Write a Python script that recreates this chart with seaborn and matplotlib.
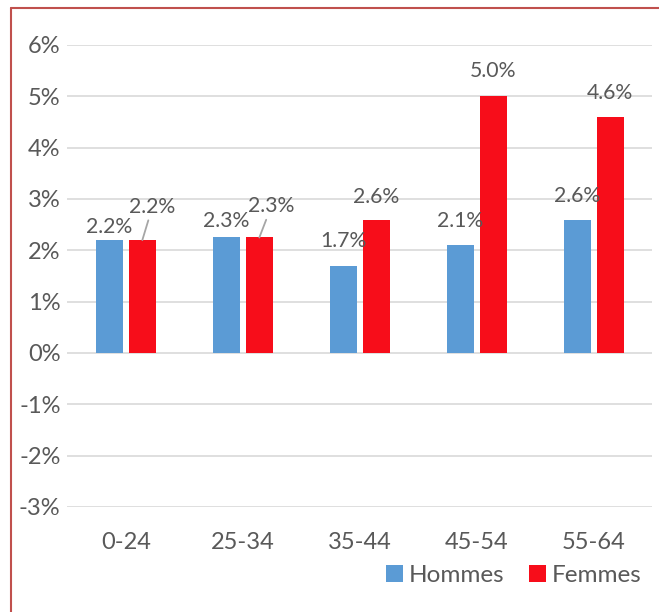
import matplotlib
matplotlib.use("Agg")
import matplotlib.pyplot as plt
import seaborn as sns
import pandas as pd
from matplotlib.lines import Line2D

categories = ["0-24", "25-34", "35-44", "45-54", "55-64"]
hommes = [2.2, 2.25, 1.7, 2.1, 2.6]
femmes = [2.2, 2.25, 2.6, 5.0, 4.6]
hommes_labels = ["2.2%", "2.3%", "1.7%", "2.1%", "2.6%"]
femmes_labels = ["2.2%", "2.3%", "2.6%", "5.0%", "4.6%"]
series = ["Hommes", "Femmes"]
yticks = [-3, -2, -1, 0, 1, 2, 3, 4, 5, 6]

df = pd.DataFrame({
    "age": categories * 2,
    "value": hommes + femmes,
    "sexe": [series[0]] * 5 + [series[1]] * 5,
})

sns.set_theme(style="white")
plt.rcParams["font.family"] = ["Lato", "DejaVu Sans"]
TXT = "#595959"

fig = plt.figure(figsize=(6.59, 6.12), dpi=100)
ax = fig.add_axes([0.1024, 0.1716, 0.8876, 0.7549])

sns.barplot(data=df, x="age", y="value", hue="sexe", order=categories,
            hue_order=series, palette=["#5B9BD5", "#F70D1A"],
            width=0.56, gap=0.18, ax=ax, saturation=1, errorbar=None,
            linewidth=0)

ax.set_ylim(-3, 6)
ax.set_xlim(-0.5, 4.5)
ax.set_yticks(yticks)
ax.set_yticklabels([f"{t}%" for t in yticks])
ax.yaxis.grid(True, color="#d9d9d9", linewidth=1.2)
ax.set_axisbelow(True)
for s in ax.spines.values():
    s.set_visible(False)
ax.set_xlabel("")
ax.set_ylabel("")
ax.tick_params(axis="y", labelsize=17, colors=TXT, length=0, pad=5)
ax.tick_params(axis="x", labelsize=17, colors=TXT, length=0, pad=18)

# data labels
h_off = [(0, 13), (0, 16), (0, 25), (0, 24), (0, 24)]
f_off = [(10, 33), (12, 31), (0, 23), (0, 25), (0, 24)]
f_lead = [True, True, False, False, False]
bars_h = ax.containers[0]
bars_f = ax.containers[1]
for i, b in enumerate(bars_h):
    cx = b.get_x() + b.get_width() / 2
    ax.annotate(hommes_labels[i], xy=(cx, hommes[i]), xytext=h_off[i],
                textcoords="offset pixels", ha="center", va="center",
                fontsize=15.3, color=TXT)
for i, b in enumerate(bars_f):
    cx = b.get_x() + b.get_width() / 2
    ap = dict(arrowstyle="-", color="#a6a6a6", lw=1.3, shrinkA=0, shrinkB=0) if f_lead[i] else None
    ax.annotate(femmes_labels[i], xy=(cx, femmes[i]), xytext=f_off[i],
                textcoords="offset pixels", ha="center", va="center",
                fontsize=15.3, color=TXT, arrowprops=ap)

handles, labels = ax.get_legend_handles_labels()
if ax.legend_:
    ax.legend_.remove()
fig.legend(handles, labels, loc="center", bbox_to_anchor=(0.78, 0.06),
           ncol=2, frameon=False, fontsize=17.5, handlelength=0.7,
           handleheight=0.7, handletextpad=0.25, columnspacing=1.0,
           labelcolor=TXT)

# border (left and top visible)
fig.add_artist(Line2D([11 / 659, 11 / 659], [0, 1 - 8 / 612], color="#c0504d",
                      lw=1.5, transform=fig.transFigure))
fig.add_artist(Line2D([11 / 659, 1], [1 - 8 / 612, 1 - 8 / 612], color="#c0504d",
                      lw=1.5, transform=fig.transFigure))

fig.savefig("out.png", dpi=100)
